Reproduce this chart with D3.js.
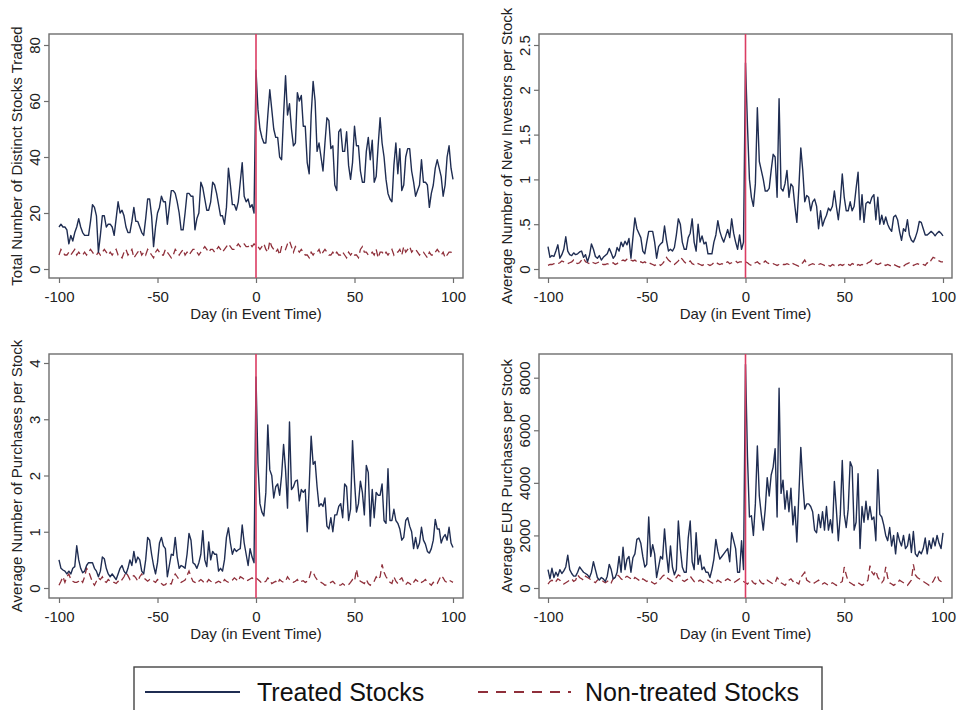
<!DOCTYPE html>
<html>
<head>
<meta charset="utf-8">
<script src="https://cdn.jsdelivr.net/npm/d3@7"></script>
<style>
  html, body { margin: 0; padding: 0; background: #fff; }
  svg { display: block; font-family: "Liberation Sans", Arial, sans-serif; }
</style>
</head>
<body>
<svg id="chart" width="959" height="710"></svg>
<script>
// ---------------- DATA ----------------
const days = d3.range(-100, 101);
const xTicks = [-100, -50, 0, 50, 100];
const xTitle = "Day (in Event Time)";
const legendLabels = ["Treated Stocks", "Non-treated Stocks"];

// Panel 1: Total Number of Distinct Stocks Traded
const p1Title = "Total Number of Distinct Stocks Traded";
const p1Ticks = [0, 20, 40, 60, 80];
const p1TickLabels = ["0", "20", "40", "60", "80"];
const p1Treated = [
  15,16,15,15,14,9,12,10,13,15, 18,15,13,12,12,12,17,23,22,19,
  6,12,19,19,15,16,16,15,12,18, 24,20,21,19,15,13,13,17,22,17,
  17,15,13,12,18,25,25,19,8,15, 20,22,26,24,24,16,22,28,28,27,
  24,20,14,14,20,27,27,26,26,14, 18,20,31,29,25,21,21,24,31,30,
  27,23,19,19,16,22,36,30,23,23, 21,24,31,38,26,24,25,22,23,20,
  71,57,50,47,45,45,55,64,57,50, 47,47,40,39,55,69,55,59,50,44,
  45,63,60,62,51,51,38,34,55,67, 60,42,45,40,35,45,54,53,43,44,
  30,28,49,50,42,42,49,37,32,38, 51,44,44,35,31,31,42,47,39,46,
  31,33,44,54,45,40,32,27,25,24, 37,45,34,43,28,30,40,43,43,35,
  31,26,28,30,39,31,31,30,22,27, 30,36,39,36,33,26,30,40,44,36,
  32];
const p1Control = [
  5,7,6,5,5,6,5,6,7,5, 6,5,5,6,5,6,7,6,5,5,
  6,5,6,7,6,5,6,5,6,7, 5,5,4,6,7,5,6,7,4,5,
  6,7,5,6,5,7,6,5,4,6, 7,6,5,5,7,6,5,4,5,7,
  6,5,6,7,5,6,5,6,7,7, 6,5,6,7,8,7,6,7,7,6,
  7,8,7,6,7,8,9,8,7,7, 8,9,8,9,9,8,8,9,8,9,
  8,8,7,8,9,7,6,10,8,7, 6,7,5,8,8,7,9,10,8,6,
  8,7,6,7,6,5,5,4,6,5, 6,6,7,5,6,7,6,5,5,6,
  5,6,5,5,6,5,4,6,5,6, 5,5,4,7,8,6,6,5,5,6,
  5,7,4,6,6,5,6,5,6,7, 5,6,6,7,5,8,6,7,8,6,
  7,7,6,5,6,6,5,4,6,5, 5,6,7,6,5,6,4,5,6,6,
  5];

// Panel 2: Average Number of New Investors per Stock
const p2Title = "Average Number of New Investors per Stock";
const p2Ticks = [0, 0.5, 1, 1.5, 2, 2.5];
const p2TickLabels = ["0", ".5", "1", "1.5", "2", "2.5"];
const p2Treated = [
  0.25,0.13,0.15,0.14,0.2,0.27,0.12,0.16,0.22,0.36,
  0.2,0.16,0.15,0.18,0.16,0.17,0.19,0.2,0.13,0.16,
  0.08,0.15,0.28,0.22,0.14,0.12,0.15,0.1,0.13,0.15,
  0.17,0.23,0.18,0.12,0.15,0.24,0.2,0.3,0.25,0.31,
  0.27,0.34,0.12,0.35,0.57,0.45,0.4,0.35,0.2,0.17,
  0.3,0.42,0.42,0.42,0.3,0.12,0.25,0.28,0.3,0.48,
  0.32,0.2,0.22,0.2,0.24,0.38,0.56,0.5,0.3,0.22,
  0.22,0.35,0.4,0.56,0.3,0.2,0.5,0.3,0.37,0.28,
  0.3,0.17,0.17,0.17,0.3,0.38,0.54,0.42,0.35,0.3,
  0.37,0.44,0.35,0.56,0.4,0.3,0.22,0.38,0.22,0.3,
  2.3,1.6,1.0,0.8,0.7,0.95,1.8,1.2,1.1,1.0,
  0.87,0.87,0.9,1.1,1.28,1.25,0.8,1.9,0.9,0.87,
  0.95,1.1,0.8,0.95,0.92,0.7,0.52,0.9,1.35,1.1,
  0.75,0.82,0.8,0.65,0.75,0.78,0.7,0.45,0.65,0.48,
  0.55,0.6,0.68,0.65,0.7,0.87,0.7,0.55,0.75,1.06,
  0.8,0.65,0.65,0.75,0.65,0.7,0.9,1.08,0.55,0.83,
  0.52,0.73,0.75,0.73,0.8,0.83,0.55,0.8,0.5,0.6,
  0.5,0.58,0.5,0.45,0.42,0.58,0.6,0.55,0.42,0.32,
  0.45,0.42,0.55,0.38,0.32,0.3,0.35,0.42,0.53,0.52,
  0.45,0.38,0.38,0.4,0.42,0.4,0.37,0.4,0.42,0.4,
  0.37];
const p2Control = [
  0.04,0.05,0.05,0.06,0.05,0.06,0.07,0.09,0.08,0.07,
  0.06,0.07,0.08,0.1,0.07,0.06,0.07,0.1,0.12,0.08,
  0.07,0.06,0.08,0.07,0.06,0.07,0.08,0.06,0.05,0.05,
  0.06,0.05,0.06,0.07,0.05,0.06,0.08,0.09,0.1,0.09,
  0.11,0.12,0.1,0.09,0.1,0.08,0.07,0.08,0.07,0.08,
  0.06,0.07,0.06,0.05,0.04,0.05,0.06,0.04,0.06,0.09,
  0.13,0.1,0.08,0.06,0.05,0.07,0.09,0.13,0.11,0.08,
  0.06,0.07,0.09,0.06,0.05,0.07,0.06,0.05,0.04,0.05,
  0.06,0.05,0.04,0.05,0.07,0.08,0.06,0.05,0.06,0.05,
  0.07,0.08,0.06,0.07,0.08,0.09,0.07,0.08,0.08,0.09,
  0.08,0.07,0.05,0.04,0.06,0.07,0.08,0.06,0.05,0.07,
  0.09,0.07,0.06,0.05,0.06,0.05,0.04,0.05,0.06,0.05,
  0.05,0.06,0.05,0.04,0.06,0.05,0.04,0.03,0.05,0.07,
  0.1,0.06,0.04,0.05,0.06,0.05,0.04,0.05,0.06,0.05,
  0.04,0.05,0.04,0.03,0.05,0.04,0.05,0.04,0.05,0.04,
  0.05,0.04,0.05,0.04,0.06,0.05,0.03,0.05,0.04,0.05,
  0.04,0.05,0.07,0.08,0.1,0.08,0.06,0.05,0.06,0.07,
  0.05,0.04,0.05,0.04,0.03,0.05,0.04,0.03,0.02,0.04,
  0.03,0.05,0.06,0.07,0.05,0.04,0.05,0.06,0.05,0.04,
  0.05,0.04,0.07,0.06,0.1,0.13,0.12,0.1,0.09,0.08,
  0.08];

// Panel 3: Average Number of Purchases per Stock
const p3Title = "Average Number of Purchases per Stock";
const p3Ticks = [0, 1, 2, 3, 4];
const p3TickLabels = ["0", "1", "2", "3", "4"];
const p3Treated = [
  0.5,0.35,0.32,0.3,0.25,0.3,0.25,0.35,0.38,0.75,
  0.5,0.35,0.27,0.3,0.4,0.45,0.45,0.45,0.35,0.3,
  0.2,0.3,0.55,0.52,0.35,0.25,0.2,0.25,0.2,0.15,
  0.25,0.35,0.4,0.3,0.25,0.35,0.5,0.4,0.65,0.45,
  0.55,0.5,0.3,0.25,0.5,0.9,0.85,0.6,0.4,0.25,
  0.45,0.8,0.9,0.75,0.7,0.2,0.4,0.6,0.58,0.9,
  0.55,0.35,0.4,0.38,0.35,0.6,0.97,0.85,0.45,0.42,
  0.35,0.45,0.6,1.02,0.5,0.38,0.82,0.5,0.65,0.6,
  0.6,0.3,0.35,0.3,0.5,0.9,1.07,0.8,0.6,0.7,
  0.65,0.68,0.7,1.12,0.8,0.6,0.4,0.7,0.55,0.45,
  3.75,2.2,1.5,1.35,1.28,1.7,2.9,2.1,2.0,1.6,
  1.8,1.85,1.65,2.0,2.55,2.1,1.42,2.95,1.75,1.8,
  1.9,1.92,1.55,1.75,1.7,1.75,1.0,1.8,2.7,2.2,
  2.25,1.8,1.45,1.5,1.45,1.6,1.1,1.05,1.25,1.0,
  1.3,1.3,1.45,1.5,1.25,1.85,1.8,1.2,1.4,2.62,
  1.9,1.35,1.5,1.9,1.7,1.3,2.18,2.05,1.1,1.75,
  1.25,1.7,1.65,1.65,1.85,1.2,1.15,2.12,1.2,1.2,
  1.4,1.2,1.15,1.05,0.85,0.9,1.2,1.25,1.1,1.0,
  0.7,0.9,0.7,0.8,1.08,0.85,0.78,0.65,0.62,0.7,
  0.85,1.22,1.05,1.05,0.8,0.9,0.95,0.85,1.08,0.8,
  0.72];
const p3Control = [
  0.05,0.12,0.2,0.1,0.2,0.25,0.15,0.12,0.1,0.1,
  0.12,0.15,0.1,0.2,0.35,0.3,0.2,0.1,0.05,0.12,
  0.18,0.15,0.2,0.12,0.1,0.15,0.12,0.1,0.1,0.08,
  0.12,0.1,0.15,0.2,0.28,0.22,0.15,0.2,0.22,0.18,
  0.12,0.2,0.25,0.18,0.15,0.12,0.15,0.12,0.12,0.1,
  0.15,0.12,0.08,0.05,0.06,0.1,0.08,0.07,0.18,0.25,
  0.2,0.15,0.1,0.12,0.14,0.22,0.3,0.2,0.12,0.1,
  0.08,0.12,0.15,0.12,0.08,0.1,0.15,0.12,0.1,0.08,
  0.1,0.12,0.1,0.08,0.15,0.12,0.1,0.12,0.14,0.18,
  0.15,0.12,0.2,0.18,0.15,0.12,0.14,0.16,0.18,0.15,
  0.18,0.15,0.12,0.08,0.1,0.12,0.18,0.14,0.08,0.1,
  0.12,0.08,0.15,0.12,0.1,0.12,0.2,0.15,0.12,0.1,
  0.12,0.15,0.1,0.12,0.13,0.1,0.12,0.18,0.3,0.28,
  0.2,0.15,0.12,0.1,0.08,0.05,0.06,0.08,0.1,0.12,
  0.08,0.06,0.05,0.05,0.08,0.05,0.04,0.06,0.1,0.15,
  0.12,0.33,0.15,0.12,0.1,0.08,0.15,0.08,0.05,0.1,
  0.12,0.2,0.15,0.2,0.42,0.28,0.2,0.15,0.1,0.08,
  0.2,0.12,0.08,0.15,0.18,0.1,0.06,0.1,0.08,0.05,
  0.1,0.15,0.12,0.14,0.1,0.12,0.15,0.1,0.08,0.05,
  0.1,0.06,0.08,0.15,0.22,0.18,0.12,0.1,0.14,0.12,
  0.1];

// Panel 4: Average EUR Purchases per Stock
const p4Title = "Average EUR Purchases per Stock";
const p4Ticks = [0, 2000, 4000, 6000, 8000];
const p4TickLabels = ["0", "2000", "4000", "6000", "8000"];
const p4Treated = [
  700,350,750,400,600,450,700,550,650,800,
  1250,700,550,450,450,600,800,700,600,550,
  500,400,600,1000,700,400,300,400,350,250,
  450,900,700,350,400,600,1200,600,1550,700,
  1100,1200,600,1150,1300,1850,1900,1700,1200,800,
  900,2700,1200,1650,1300,400,800,1200,1100,2250,
  1300,600,1600,800,500,700,2550,1500,800,600,
  600,1900,2550,1000,700,2100,900,1250,700,800,
  600,600,400,700,1100,1850,1400,1100,1200,1300,
  1400,1500,1000,2100,1800,1500,600,600,1800,700,
  8500,5000,2700,2750,2000,3200,5400,3500,2800,2200,
  3000,4200,3500,4300,4600,5300,2700,7600,3600,4100,
  3000,3700,2900,3800,2400,3100,1750,3500,5350,4000,
  3000,3200,3200,3100,2900,2200,2100,2800,2300,2900,
  2200,3100,2200,2600,2100,4050,3000,1800,2800,4850,
  2800,2300,3000,4800,4600,2200,2500,4350,1500,3100,
  2500,3300,2600,3100,2600,2700,1800,4500,2800,2700,
  2400,2000,1800,2300,1600,2000,1300,2100,1800,1600,
  2000,1500,1600,2050,1350,2150,1300,1200,1400,1300,
  1500,1900,1300,1800,1500,1900,1600,2000,1700,1500,
  2100];
const p4Control = [
  150,250,300,200,250,350,300,200,150,200,
  250,300,350,250,300,500,400,350,300,450,
  400,350,300,250,200,300,350,300,250,200,
  250,300,200,350,400,500,450,350,300,400,
  450,400,350,300,400,350,300,250,350,300,
  250,300,250,200,150,200,300,350,450,500,
  400,350,300,250,350,400,500,450,300,250,
  300,350,450,350,250,200,250,300,250,200,
  250,300,250,200,150,200,300,250,200,250,
  300,350,300,250,200,250,300,350,300,250,
  200,150,250,300,200,150,250,300,200,150,
  200,300,250,200,150,200,400,300,200,150,
  100,200,300,350,250,300,200,150,400,500,
  600,300,250,200,150,200,250,300,200,150,
  200,150,100,150,200,150,100,150,200,250,
  800,500,250,200,150,100,150,200,150,100,
  150,200,300,850,600,500,650,400,300,200,
  300,800,400,200,150,100,150,200,300,250,
  200,150,100,200,300,900,500,400,350,300,
  250,200,150,100,150,250,400,500,300,250,
  200];

// ---------------- DRAW ----------------
const svg = d3.select("#chart");
const NAVY = "#1f2d52", MAROON = "#8f2f3a", RED = "#db3d63", FRAME = "#6e6e6e";

const panels = [
  { title: p1Title, ticks: p1Ticks, labels: p1TickLabels, max: 80,   t: p1Treated, c: p1Control,
    box: [49, 34, 463, 278], xr: [59, 453],   yr: [269, 45],    titleX: 22 },
  { title: p2Title, ticks: p2Ticks, labels: p2TickLabels, max: 2.5,  t: p2Treated, c: p2Control,
    box: [539, 34, 952, 278], xr: [548, 943], yr: [269, 45],    titleX: 512 },
  { title: p3Title, ticks: p3Ticks, labels: p3TickLabels, max: 4,    t: p3Treated, c: p3Control,
    box: [49, 354, 463, 598], xr: [59, 453],  yr: [588, 363],   titleX: 21.5 },
  { title: p4Title, ticks: p4Ticks, labels: p4TickLabels, max: 8000, t: p4Treated, c: p4Control,
    box: [539, 354, 952, 598], xr: [548, 943], yr: [588, 377.7], titleX: 511.5 }
];

panels.forEach(p => {
  const [x0, y0, x1, y1] = p.box;
  const x = d3.scaleLinear().domain([-100, 100]).range(p.xr);
  const y = d3.scaleLinear().domain([0, p.max]).range(p.yr);
  const g = svg.append("g");

  // frame
  g.append("rect").attr("x", x0).attr("y", y0).attr("width", x1 - x0).attr("height", y1 - y0)
    .attr("fill", "none").attr("stroke", FRAME).attr("stroke-width", 1.4);

  // y axis
  const ya = d3.axisLeft(y).tickValues(p.ticks).tickSize(5)
    .tickFormat((d, i) => p.labels[i]);
  const yg = g.append("g").attr("transform", `translate(${x0},0)`).call(ya);
  yg.select(".domain").remove();
  yg.selectAll(".tick line").attr("stroke", FRAME).attr("stroke-width", 1.2);
  yg.selectAll(".tick text")
    .attr("transform", "rotate(-90)")
    .attr("x", 0).attr("y", -9.5).attr("dy", 0)
    .attr("text-anchor", "middle")
    .attr("fill", "#222").style("font-size", "15px")
    .style("font-family", "'Liberation Sans', Arial, sans-serif");

  // x axis
  const xa = d3.axisBottom(x).tickValues(xTicks).tickSize(5).tickFormat(d3.format("d"));
  const xg = g.append("g").attr("transform", `translate(0,${y1})`).call(xa);
  xg.select(".domain").remove();
  xg.selectAll(".tick line").attr("stroke", FRAME).attr("stroke-width", 1.2);
  xg.selectAll(".tick text")
    .text(d => d < 0 ? "-" + Math.abs(d) : String(d))
    .attr("y", 23.5).attr("dy", 0)
    .attr("fill", "#222").style("font-size", "15px")
    .style("font-family", "'Liberation Sans', Arial, sans-serif");

  // x title
  g.append("text").attr("x", (x0 + x1) / 2).attr("y", y1 + 41)
    .attr("text-anchor", "middle").attr("fill", "#222").style("font-size", "15px")
    .text(xTitle);

  // y title
  g.append("text")
    .attr("transform", `translate(${p.titleX},${(y0 + y1) / 2}) rotate(-90)`)
    .attr("text-anchor", "middle").attr("fill", "#222").style("font-size", "15px")
    .text(p.title);

  const line = d3.line().x((d, i) => x(days[i])).y(d => y(d));

  // control (dashed)
  g.append("path").datum(p.c).attr("d", line).attr("fill", "none")
    .attr("stroke", MAROON).attr("stroke-width", 1.3).attr("stroke-dasharray", "7,4");

  // treated
  g.append("path").datum(p.t).attr("d", line).attr("fill", "none")
    .attr("stroke", NAVY).attr("stroke-width", 1.4).attr("stroke-linejoin", "round");

  // event line
  g.append("line").attr("x1", x(0)).attr("x2", x(0)).attr("y1", y0).attr("y2", y1)
    .attr("stroke", RED).attr("stroke-width", 1.6);
});

// ---------------- LEGEND ----------------
const lg = svg.append("g");
lg.append("rect").attr("x", 134).attr("y", 667).attr("width", 688).attr("height", 60)
  .attr("fill", "#fff").attr("stroke", "#444").attr("stroke-width", 1.4);
lg.append("line").attr("x1", 145).attr("x2", 240).attr("y1", 692).attr("y2", 692)
  .attr("stroke", NAVY).attr("stroke-width", 2);
lg.append("text").attr("x", 257).attr("y", 701).style("font-size", "25px").attr("fill", "#111")
  .text(legendLabels[0]);
lg.append("line").attr("x1", 478).attr("x2", 571).attr("y1", 692).attr("y2", 692)
  .attr("stroke", MAROON).attr("stroke-width", 2).attr("stroke-dasharray", "10,8");
lg.append("text").attr("x", 585).attr("y", 701).style("font-size", "25px").attr("fill", "#111")
  .text(legendLabels[1]);
</script>
</body>
</html>
